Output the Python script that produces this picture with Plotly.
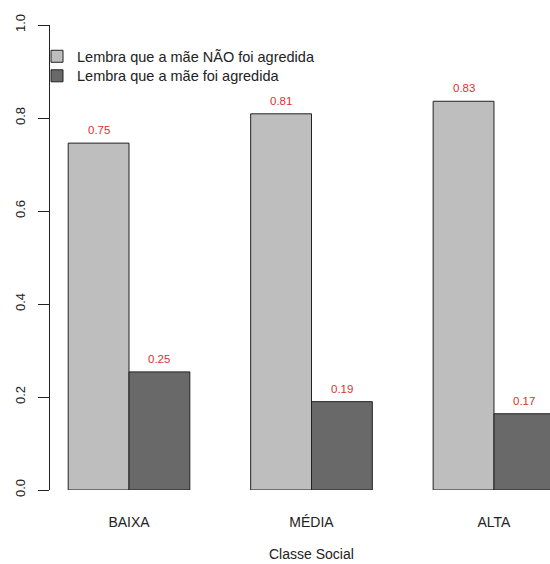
import plotly.graph_objects as go

categories = ["BAIXA", "MÉDIA", "ALTA"]
series_names = ["Lembra que a mãe NÃO foi agredida", "Lembra que a mãe foi agredida"]
nao_agredida = [0.746, 0.809, 0.836]
agredida = [0.254, 0.190, 0.164]
nao_labels = ["0.75", "0.81", "0.83"]
agr_labels = ["0.25", "0.19", "0.17"]
y_ticks = [0.0, 0.2, 0.4, 0.6, 0.8, 1.0]
x_title = "Classe Social"

FONT = "Liberation Sans, Arial, sans-serif"

fig = go.Figure()
fig.add_trace(go.Bar(x=categories, y=nao_agredida, name=series_names[0], legend="legend",
                     showlegend=True,
                     marker=dict(color="#BEBEBE", line=dict(color="#222222", width=1))))
fig.add_trace(go.Bar(x=categories, y=agredida, name=series_names[1], legend="legend2",
                     showlegend=True,
                     marker=dict(color="#696969", line=dict(color="#222222", width=1))))

annotations = []
for i, (v, t) in enumerate(zip(nao_agredida, nao_labels)):
    annotations.append(dict(x=i - 1/6, y=v, xref="x", yref="y", text=t, showarrow=False,
                            yshift=13, font=dict(family=FONT, size=11.5, color="#E03030")))
for i, (v, t) in enumerate(zip(agredida, agr_labels)):
    annotations.append(dict(x=i + 1/6, y=v, xref="x", yref="y", text=t, showarrow=False,
                            yshift=13, font=dict(family=FONT, size=11.5, color="#E03030")))
annotations.append(dict(x=1, y=0, xref="x", yref="paper", text=x_title, showarrow=False,
                        yshift=-74, font=dict(family=FONT, size=14, color="#222222")))

legend_style = dict(x=-0.026, xanchor="left", yanchor="top",
                    font=dict(family=FONT, size=14.5, color="#222222"),
                    bgcolor="rgba(0,0,0,0)")

fig.update_layout(
    width=550, height=564,
    margin=dict(l=50, r=0, t=25, b=74),
    plot_bgcolor="white", paper_bgcolor="white",
    barmode="group", bargap=1/3, bargroupgap=0,
    font=dict(family=FONT, color="#222222"),
    annotations=annotations,
    showlegend=True,
    legend=dict(y=0.967, **legend_style),
    legend2=dict(y=0.925, **legend_style),
    xaxis=dict(range=[-0.433, 2.307], showline=False, showgrid=False, zeroline=False,
               ticks="", tickfont=dict(family=FONT, size=14, color="#222222"),
               ticklabelstandoff=22),
    yaxis=dict(range=[0, 1], tickvals=y_ticks, ticktext=[f"{v:.1f}" for v in y_ticks],
               showline=True, linecolor="#222222", linewidth=1,
               ticks="outside", ticklen=11, tickcolor="#222222", tickwidth=1,
               tickangle=-90, showgrid=False, zeroline=False, ticklabelstandoff=8,
               tickfont=dict(family=FONT, size=13, color="#222222")),
)

fig.write_html("out.html", config={"displayModeBar": False},
               post_script="document.body.style.margin='0';"
                           "document.documentElement.style.overflow='hidden';")
